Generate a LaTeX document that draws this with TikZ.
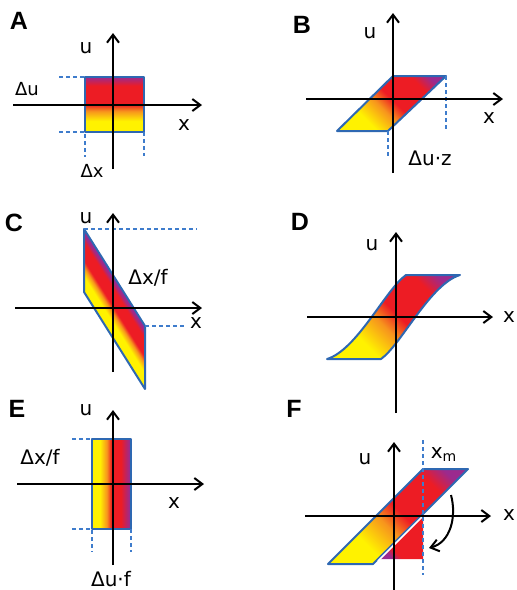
\documentclass[tikz,border=0pt]{standalone}
\usepackage{fontspec}
\setmainfont{DejaVu Sans}
\newfontfamily\tagfamily{Liberation Sans}
\usepackage{xcolor}
\usepackage{tikz}
\usetikzlibrary{arrows.meta}

\definecolor{hyel}{RGB}{255,242,0}
\definecolor{horange}{RGB}{247,148,29}
\definecolor{hred}{RGB}{237,28,36}
\definecolor{hpurp}{RGB}{155,42,142}
\definecolor{edgeblue}{RGB}{46,104,178}
\definecolor{guideblue}{RGB}{62,124,204}

% colour maps (yellow -> orange -> red -> purple)
\pgfdeclarehorizontalshading{heatstrip}{100bp}{color(0bp)=(hyel); color(35bp)=(hyel); color(44bp)=(horange); color(50bp)=(hred); color(62bp)=(hred); color(73bp)=(hpurp); color(100bp)=(hpurp)}
\pgfdeclareverticalshading{heatlayer}{100bp}{color(0bp)=(hyel); color(35bp)=(hyel); color(44bp)=(horange); color(50bp)=(hred); color(67bp)=(hred); color(75bp)=(hpurp); color(100bp)=(hpurp)}
\pgfdeclarehorizontalshading{heatslant}{100bp}{color(0bp)=(hyel); color(32bp)=(hyel); color(44bp)=(horange); color(52bp)=(hred); color(70bp)=(hred); color(78bp)=(hpurp); color(100bp)=(hpurp)}
\pgfdeclarehorizontalshading{heatband}{100bp}{color(0bp)=(hyel); color(45.7bp)=(hyel); color(48.2bp)=(horange); color(50bp)=(hred); color(55bp)=(hred); color(57bp)=(hpurp); color(100bp)=(hpurp)}
\pgfdeclarehorizontalshading{heattip}{100bp}{color(0bp)=(hpurp); color(25bp)=(hpurp); color(33bp)=(hred); color(100bp)=(hred)}

\begin{document}
\begin{tikzpicture}[
    x=0.5pt, y=-0.5pt,
    axis/.style={-{Straight Barb[length=4pt,width=6pt]}, line width=1pt},
    region/.style={draw=edgeblue, line width=1pt, line join=round},
    guide/.style={draw=guideblue, line width=0.7pt, dash pattern=on 2pt off 1.5pt},
    lbl/.style={inner sep=0pt, font=\fontsize{10}{12}\selectfont},
    small/.style={inner sep=0pt, font=\fontsize{9}{11}\selectfont},
    tag/.style={inner sep=0pt, font=\fontsize{12.5}{14}\selectfont\tagfamily\bfseries}
]
    \useasboundingbox (0,0) rectangle (516,590);

    % Panel A
    \coordinate (Asq1) at (85,77);
    \coordinate (Asq2) at (144,132);
    \shadedraw [region, shading=heatlayer] (Asq1) rectangle (Asq2);
    \draw [guide] (59,77) -- (Asq1);
    \draw [guide] (59,132) -- (85,132) -- (85,157);
    \draw [guide] (Asq2) -- (144,156);
    \coordinate (Axl) at (13,105);
    \coordinate (Axr) at (202,105);
    \coordinate (Ayb) at (113,169);
    \coordinate (Ayt) at (113,33);
    \draw [axis] (Axl) -- (Axr);
    \draw [axis] (Ayb) -- (Ayt);
    \node [tag] (tagA) at (19,21) {A};
    \node [lbl] (Au) at (86,48) {u};
    \node [small] (Adu) at (27,89) {Δu};
    \node [lbl] (Ax) at (184,125) {x};
    \node [small] (Adx) at (92,171) {Δx};

    % Panel B
    \shadedraw [region, shading=heatslant, shading angle=45]
        (337,131) -- (388,131) -- (446,76) -- (393,76) -- cycle;
    \draw [guide] (446,76) -- (446,131);
    \draw [guide] (388,131) -- (388,156);
    \coordinate (Bxl) at (306,99);
    \coordinate (Bxr) at (503,99);
    \coordinate (Byb) at (393,173);
    \coordinate (Byt) at (393,13);
    \draw [axis] (Bxl) -- (Bxr);
    \draw [axis] (Byb) -- (Byt);
    \node [tag] (tagB) at (302,25) {B};
    \node [lbl] (Bu) at (370,33) {u};
    \node [lbl] (Bx) at (489,118) {x};
    \node [lbl] (Bduz) at (430,158) {Δu·z};

    % Panel C
    \shadedraw [region, shading=heatband, shading angle=32.2]
        (84,229) -- (84,292) -- (145,389) -- (145,326) -- cycle;
    \draw [guide] (84,229) -- (197,229);
    \draw [guide] (145,326) -- (187,326);
    \coordinate (Cxl) at (15,308);
    \coordinate (Cxr) at (202,308);
    \coordinate (Cyb) at (113,372);
    \coordinate (Cyt) at (113,213);
    \draw [axis] (Cxl) -- (Cxr);
    \draw [axis] (Cyb) -- (Cyt);
    \node [tag] (tagC) at (14,223) {C};
    \node [lbl] (Cu) at (86,218) {u};
    \node [lbl] (Cdxf) at (148,278) {Δx/f};
    \node [lbl] (Cx) at (196,323) {x};

    % Panel D
    \shadedraw [region, shading=heatslant, shading angle=45]
        (327,359) .. controls (357,350) and (386,289) .. (406,275) -- (460,275)
        .. controls (430,284) and (401,345) .. (381,359) -- cycle;
    \coordinate (Dxl) at (307,317);
    \coordinate (Dxr) at (493,317);
    \coordinate (Dyb) at (396,413);
    \coordinate (Dyt) at (396,232);
    \draw [axis] (Dxl) -- (Dxr);
    \draw [axis] (Dyb) -- (Dyt);
    \node [tag] (tagD) at (300,222) {D};
    \node [lbl] (Du) at (372,245) {u};
    \node [lbl] (Dx) at (509,317) {x};

    % Panel E
    \coordinate (Esq1) at (92,439);
    \coordinate (Esq2) at (131,529);
    \shadedraw [region, shading=heatstrip] (Esq1) rectangle (Esq2);
    \draw [guide] (72,439) -- (Esq1);
    \draw [guide] (72,529) -- (92,529) -- (92,552);
    \draw [guide] (Esq2) -- (131,552);
    \coordinate (Exl) at (17,484);
    \coordinate (Exr) at (204,484);
    \coordinate (Eyb) at (113,565);
    \coordinate (Eyt) at (113,410);
    \draw [axis] (Exl) -- (Exr);
    \draw [axis] (Eyb) -- (Eyt);
    \node [tag] (tagE) at (17,409) {E};
    \node [lbl] (Eu) at (86,410) {u};
    \node [lbl] (Edxf) at (40,458) {Δx/f};
    \node [lbl] (Ex) at (174,503) {x};
    \node [lbl] (Eduf) at (111,579) {Δu·f};

    % Panel F
    \shadedraw [region, shading=heatslant, shading angle=45]
        (328,564) -- (373,564) -- (468,469) -- (423,469) -- cycle;
    \coordinate (Fpiv) at (423,516);
    \shade [shading=heattip, shading angle=45] (Fpiv) -- (423,559) -- (380,559) -- cycle;
    \draw [white, line width=0.8pt] (Fpiv) -- (378,561);
    \draw [guide] (423,440) -- (423,575);
    \coordinate (Fxl) at (305,516);
    \coordinate (Fxr) at (491,516);
    \coordinate (Fyb) at (394,590);
    \coordinate (Fyt) at (394,442);
    \draw [axis] (Fxl) -- (Fxr);
    \draw [axis] (Fyb) -- (Fyt);
    \coordinate (Fturn1) at (451,495);
    \coordinate (Fturn2) at (429,548);
    \draw [axis] (Fturn1) to [out=-75, in=15] (Fturn2);
    \node [tag] (tagF) at (294,409) {F};
    \node [lbl] (Fu) at (365,459) {u};
    \node [lbl] (Fxm) at (444,455) {x\textsubscript{m}};
    \node [lbl] (Fx) at (509,515) {x};
\end{tikzpicture}
\end{document}
